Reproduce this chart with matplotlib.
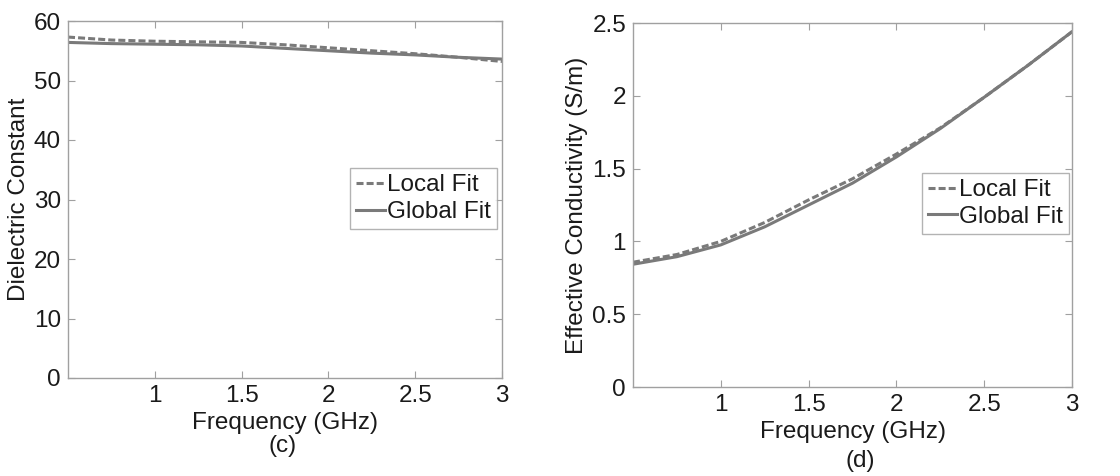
import matplotlib
matplotlib.use("Agg")
import matplotlib.pyplot as plt

plt.rcParams['font.family'] = ['Liberation Sans', 'DejaVu Sans']

freq = [0.5, 0.75, 1.0, 1.25, 1.5, 1.75, 2.0, 2.25, 2.5, 2.75, 3.0]
eps_local = [57.3, 56.8, 56.6, 56.5, 56.4, 56.0, 55.5, 55.0, 54.5, 53.9, 53.2]
eps_global = [56.4, 56.2, 56.1, 56.0, 55.8, 55.4, 55.0, 54.6, 54.3, 53.9, 53.6]
sig_local = [0.857, 0.91, 1.0, 1.13, 1.285, 1.43, 1.60, 1.78, 1.99, 2.21, 2.44]
sig_global = [0.843, 0.895, 0.976, 1.10, 1.25, 1.40, 1.58, 1.775, 1.99, 2.21, 2.44]

xticks = [1, 1.5, 2, 2.5, 3]
xticklabels = ['1', '1.5', '2', '2.5', '3']
eps_ticks = [0, 10, 20, 30, 40, 50, 60]
sig_ticks = [0, 0.5, 1, 1.5, 2, 2.5]
sig_ticklabels = ['0', '0.5', '1', '1.5', '2', '2.5']

W, H = 1120, 476
fig = plt.figure(figsize=(W / 100, H / 100), dpi=100)

line_c = '#7a7a7a'
spine_c = '#a0a0a0'
text_c = '#1a1a1a'
fs = 17.5
dash = (0, (2.3, 1.0))


def style(ax):
    for s in ax.spines.values():
        s.set_color(spine_c)
        s.set_linewidth(1.0)
    ax.tick_params(direction='in', top=True, right=True, length=5, width=0.8,
                   color=spine_c, labelsize=fs, labelcolor=text_c, pad=5)


def box(l, t, r, b):
    return [l / W, 1 - b / H, (r - l) / W, (b - t) / H]


def legend(ax, x):
    leg = ax.legend(loc='upper right', bbox_to_anchor=(x, 0.588), fontsize=fs,
                    frameon=True, fancybox=False, edgecolor=spine_c, borderaxespad=0,
                    handlelength=1.2, handletextpad=0.08, borderpad=0.25,
                    labelspacing=0.2)
    leg.get_frame().set_linewidth(1.0)
    for t in leg.get_texts():
        t.set_color(text_c)
    return leg


ax1 = fig.add_axes(box(68, 21, 502, 378))
ax1.plot(freq, eps_local, color=line_c, lw=2.2, linestyle=dash, label='Local Fit')
ax1.plot(freq, eps_global, color=line_c, lw=2.2, label='Global Fit')
ax1.set_xlim(0.5, 3)
ax1.set_ylim(0, 60)
ax1.set_xticks(xticks)
ax1.set_xticklabels(xticklabels)
ax1.set_yticks(eps_ticks)
ax1.set_ylabel('Dielectric Constant', fontsize=fs, color=text_c, labelpad=3)
style(ax1)
legend(ax1, 0.988)

ax2 = fig.add_axes(box(633, 23, 1072, 387))
ax2.plot(freq, sig_local, color=line_c, lw=2.2, linestyle=dash, label='Local Fit')
ax2.plot(freq, sig_global, color=line_c, lw=2.2, label='Global Fit')
ax2.set_xlim(0.5, 3)
ax2.set_ylim(0, 2.5)
ax2.set_xticks(xticks)
ax2.set_xticklabels(xticklabels)
ax2.set_yticks(sig_ticks)
ax2.set_yticklabels(sig_ticklabels)
ax2.set_ylabel('Effective Conductivity (S/m)', fontsize=fs, color=text_c, labelpad=3)
style(ax2)
legend(ax2, 0.993)

fig.text(285 / W, 1 - 423 / H, 'Frequency (GHz)', ha='center', va='center', fontsize=fs, color=text_c)
fig.text(283 / W, 1 - 446 / H, '(c)', ha='center', va='center', fontsize=fs, color=text_c)
fig.text(853 / W, 1 - 432 / H, 'Frequency (GHz)', ha='center', va='center', fontsize=fs, color=text_c)
fig.text(860 / W, 1 - 461 / H, '(d)', ha='center', va='center', fontsize=fs, color=text_c)

fig.savefig('out.png', dpi=100, facecolor='white')
